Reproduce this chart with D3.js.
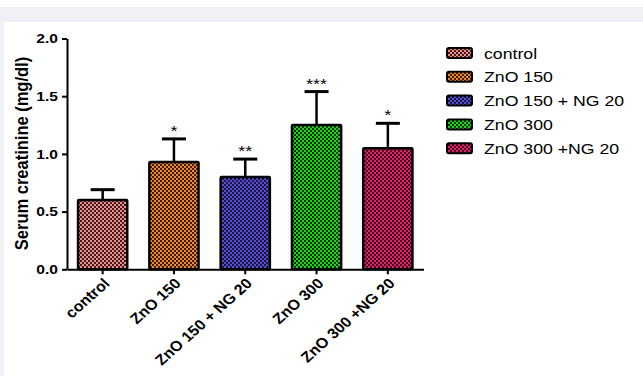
<!DOCTYPE html>
<html>
<head>
<meta charset="utf-8">
<script src="https://cdn.jsdelivr.net/npm/d3@7/dist/d3.min.js"></script>
<style>
  html, body { margin: 0; padding: 0; background: #ffffff; }
  svg { display: block; }
</style>
</head>
<body>
<script>
// Serum creatinine by treatment group (mean + SEM, significance marks)
const groups = ["control", "ZnO 150", "ZnO 150 + NG 20", "ZnO 300", "ZnO 300 +NG 20"];
const means = [0.60, 0.93, 0.80, 1.25, 1.05];
const errors = [0.09, 0.20, 0.155, 0.29, 0.215];
const stars = ["", "*", "**", "***", "*"];
const colors = ["#f28a8a", "#f0882a", "#4f4fe8", "#10e010", "#ea1c70"];
const yTicks = [0.0, 0.5, 1.0, 1.5, 2.0];

const W = 643, H = 376;
const svg = d3.select("body").append("svg").attr("width", W).attr("height", H);

// page frame
svg.append("rect").attr("x", 0).attr("y", 7).attr("width", W).attr("height", 15).attr("fill", "#f0f1f7");
svg.append("rect").attr("x", 0).attr("y", 7).attr("width", 4).attr("height", H - 7).attr("fill", "#f0f1f7");

// checkered fills
const defs = svg.append("defs");
colors.forEach((c, i) => {
  const p = defs.append("pattern").attr("id", "chk" + i)
    .attr("patternUnits", "userSpaceOnUse").attr("width", 4).attr("height", 4);
  p.append("rect").attr("width", 4).attr("height", 4).attr("fill", c);
  p.append("rect").attr("x", 0).attr("y", 0).attr("width", 2).attr("height", 2).attr("fill", "#1a0a0a").attr("opacity", 0.85);
  p.append("rect").attr("x", 2).attr("y", 2).attr("width", 2).attr("height", 2).attr("fill", "#1a0a0a").attr("opacity", 0.85);
});

const x = d3.scaleBand().domain(groups).range([67, 423.5]).paddingInner(0.31).paddingOuter(0.155);
const y = d3.scaleLinear().domain([0, 2]).range([269.3, 38.5]);

const font = "Liberation Sans, Arial, Helvetica, sans-serif";

// y axis
const yAxis = svg.append("g").attr("transform", "translate(67,0)")
  .call(d3.axisLeft(y).tickValues(yTicks).tickFormat(d3.format(".1f")).tickSize(5).tickSizeOuter(0));
yAxis.select(".domain").attr("stroke", "#000").attr("stroke-width", 2);
yAxis.selectAll(".tick line").attr("stroke", "#000").attr("stroke-width", 2);
yAxis.selectAll(".tick text").attr("font-family", font).attr("font-size", 13).attr("font-weight", "bold").attr("fill", "#000")
  .attr("x", 0).attr("transform", "translate(-9,0) scale(1.2,1)");

// bars
const bars = svg.append("g");
groups.forEach((g, i) => {
  const cx = x(g) + x.bandwidth() / 2;
  // error bar
  bars.append("line").attr("x1", cx).attr("x2", cx).attr("y1", y(means[i])).attr("y2", y(means[i] + errors[i]))
    .attr("stroke", "#000").attr("stroke-width", 2.5);
  bars.append("line").attr("x1", cx - 12).attr("x2", cx + 12).attr("y1", y(means[i] + errors[i])).attr("y2", y(means[i] + errors[i]))
    .attr("stroke", "#000").attr("stroke-width", 3);
  bars.append("rect").attr("x", x(g)).attr("y", y(means[i])).attr("width", x.bandwidth())
    .attr("height", y(0) - y(means[i])).attr("fill", "url(#chk" + i + ")")
    .attr("stroke", "#000").attr("stroke-width", 2.5).attr("rx", 1);
  if (stars[i]) {
    bars.append("text").attr("transform", `translate(${cx},${y(means[i] + errors[i]) - 3}) scale(1.2,1)`)
      .attr("text-anchor", "middle").attr("font-family", font).attr("font-size", 15).attr("fill", "#000")
      .text(stars[i]);
  }
});

// x axis
const xAxis = svg.append("g").attr("transform", "translate(0,269.3)")
  .call(d3.axisBottom(x).tickSize(5).tickSizeOuter(0));
xAxis.select(".domain").attr("stroke", "#000").attr("stroke-width", 2);
xAxis.selectAll(".tick line").attr("stroke", "#000").attr("stroke-width", 2);
xAxis.selectAll(".tick text").attr("font-family", font).attr("font-size", 14.5).attr("font-weight", "bold").attr("fill", "#000")
  .attr("text-anchor", "end").attr("dy", 0).attr("y", 0)
  .attr("transform", "translate(8,15) scale(1.12,1) rotate(-45)");

// y title
svg.append("text").attr("transform", "translate(28,153.5) scale(1.15,1) rotate(-90)")
  .attr("text-anchor", "middle").attr("font-family", font).attr("font-size", 16.5).attr("font-weight", "bold")
  .text("Serum creatinine (mg/dl)");

// legend
const lg = svg.append("g");
groups.forEach((g, i) => {
  const yy = 53 + i * 23.8;
  lg.append("rect").attr("x", 447).attr("y", yy - 5).attr("width", 25).attr("height", 10).attr("rx", 2)
    .attr("fill", "url(#chk" + i + ")").attr("stroke", "#000").attr("stroke-width", 2);
  lg.append("text").attr("transform", `translate(484,${yy + 5.5}) scale(1.18,1)`)
    .attr("font-family", font).attr("font-size", 15).attr("fill", "#000").text(g);
});
</script>
</body>
</html>
